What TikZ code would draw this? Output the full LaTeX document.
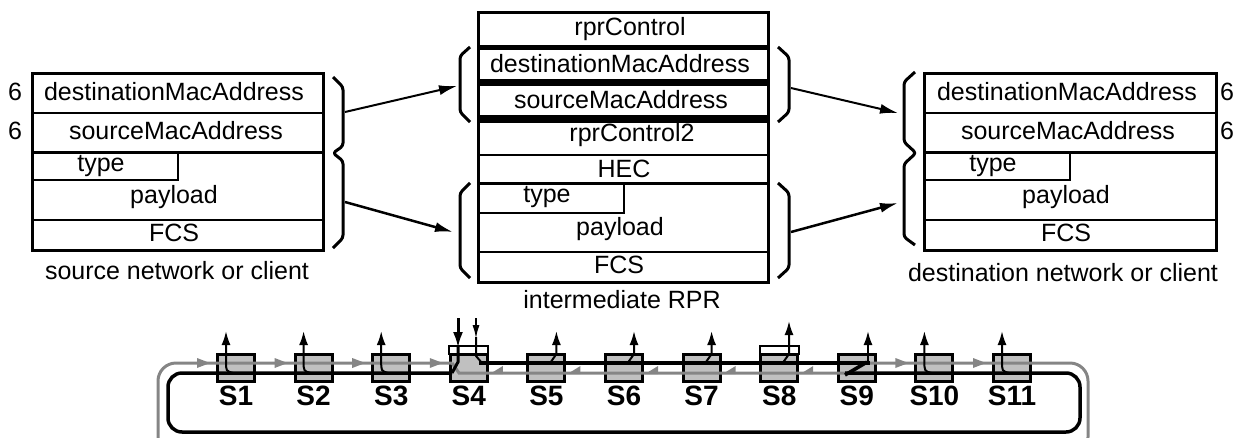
\documentclass[tikz,border=0pt]{standalone}
\usepackage{fontspec}
\setmainfont{Liberation Sans}
\usetikzlibrary{arrows.meta}
\definecolor{boxgray}{RGB}{192,192,192}
\definecolor{ringgray}{RGB}{133,133,133}
\begin{document}
\begin{tikzpicture}[x=1pt,y=-1pt,
  txt/.style={inner sep=0pt,font=\fontsize{25}{25}\selectfont},
  stn/.style={inner sep=0pt,font=\fontsize{28}{28}\selectfont\bfseries},
  brace/.style={line width=3pt,line join=round,rounded corners=3pt},
  pass/.style={line width=2.5pt,-{Latex[length=18pt,width=10pt]}},
  bring/.style={line width=3.5pt},
  gring/.style={line width=3pt,ringgray},
  drop/.style={line width=2pt,-{Latex[length=14pt,width=9pt]}},
  stbox/.style={draw,line width=3pt,fill=boxgray,minimum width=37pt,minimum height=27pt,inner sep=0pt}]
\useasboundingbox (0,0) rectangle (1237,437);
%source frame
\draw[line width=3pt] (32,73) rectangle (323,250);
\draw[line width=1.5pt] (32,113)--(323,113);
\draw[line width=3pt] (32,152)--(323,152);
\draw[line width=2.5pt] (32,180)-|(178,152);
\draw[line width=1.5pt] (32,220)--(323,220);
\node[txt] (sdst) at (174,92) {destinationMacAddress};
\node[txt] (ssrc) at (176,131) {sourceMacAddress};
\node[txt] (styp) at (101,166) {type};
\node[txt] (spay) at (174,197) {payload};
\node[txt] (sfcs) at (174,233) {FCS};
\node[txt] (sn1) at (15,92) {6};
\node[txt] (sn2) at (15,131) {6};
\node[txt] (slbl) at (177,271) {source network or client};
\draw[brace] (333,77)--(343,87)--(343,146)--(333,153)--(343,161)--(343,238)--(333,248);
%intermediate frame
\draw[line width=3pt] (478,12) rectangle (768,282);
\draw[line width=5pt] (478,47)--(768,47);
\draw[line width=7pt] (478,82)--(768,82);
\draw[line width=8pt] (478,119)--(768,119);
\draw[line width=2pt] (478,155)--(768,155);
\draw[line width=3pt] (478,183)--(768,183);
\draw[line width=2pt] (478,213)-|(624,183);
\draw[line width=2pt] (478,252)--(768,252);
\node[txt] (mctl) at (630,29) {rprControl};
\node[txt] (mdst) at (620,64) {destinationMacAddress};
\node[txt] (msrc) at (621,100) {sourceMacAddress};
\node[txt] (mct2) at (632,135) {rprControl2};
\node[txt] (mhec) at (624,169) {HEC};
\node[txt] (mtyp) at (547,197) {type};
\node[txt] (mpay) at (620,229) {payload};
\node[txt] (mfcs) at (619,265) {FCS};
\node[txt] (mlbl) at (622,300) {intermediate RPR};
\draw[brace] (470,47)--(460,56)--(460,112)--(470,122);
\draw[brace] (470,183)--(460,193)--(460,268)--(470,278);
\draw[brace] (778,47)--(789,57)--(789,112)--(778,122);
\draw[brace] (778,183)--(789,193)--(789,268)--(778,278);
%destination frame
\draw[line width=3pt] (924,73) rectangle (1216,250);
\draw[line width=1.5pt] (924,113)--(1216,113);
\draw[line width=3pt] (924,152)--(1216,152);
\draw[line width=2.5pt] (924,180)-|(1070,152);
\draw[line width=1.5pt] (924,220)--(1216,220);
\node[txt] (ddst) at (1067,92) {destinationMacAddress};
\node[txt] (dsrc) at (1068,131) {sourceMacAddress};
\node[txt] (dtyp) at (993,166) {type};
\node[txt] (dpay) at (1066,197) {payload};
\node[txt] (dfcs) at (1066,233) {FCS};
\node[txt] (dn1) at (1227,92) {6};
\node[txt] (dn2) at (1227,131) {6};
\node[txt] (dlbl) at (1063,273) {destination network or client};
\draw[brace] (915,72)--(904,82)--(904,142)--(916,153)--(904,164)--(904,237)--(915,245);
%header / payload moves
\coordinate (sh) at (345,112);
\coordinate (sp) at (345,202);
\coordinate (mhl) at (457,86);
\coordinate (mpl) at (453,232);
\coordinate (mhr) at (791,88);
\coordinate (mpr) at (791,232);
\coordinate (dh) at (898,113);
\coordinate (dp) at (898,203);
\draw[pass,line width=2pt] (sh)--(mhl);
\draw[pass] (sp)--(mpl);
\draw[pass,line width=2pt] (mhr)--(dh);
\draw[pass] (mpr)--(dp);
%stations
\foreach \i in {1,...,11}{
  \pgfmathsetmacro\cx{236+77.6*(\i-1)}
  \node[stbox] (S\i) at (\cx,368) {};
  \node[stn] (L\i) at (\cx,396) {S\i};
}
\foreach \i in {4,8}{
  \pgfmathsetmacro\cx{236+77.6*(\i-1)}
  \draw[line width=2pt] (\cx-19.5,346) rectangle (\cx+19.5,354);
}
%gray ringlet
\draw[gring,rounded corners=18pt] (866,363)--(1088,363)--(1088,455)--(158,455)--(158,363)--(452,363);
\draw[gring] (452,363)--(459,373)--(849,373)--(866,363);
\foreach \i in {1,2,3,4,10,11}{
  \pgfmathsetmacro\tx{236+77.6*(\i-1)-26}
  \fill[ringgray] (\tx,363)--++(-13,-5)--++(0,10)--cycle;
}
\foreach \i in {4,...,8}{
  \pgfmathsetmacro\tx{236+77.6*(\i-1)+21}
  \fill[ringgray] (\tx,374)--(\tx+13,366)--(\tx+13,374)--cycle;
}
%black ringlet
\draw[bring,rounded corners=14pt] (452,373)--(168,373)--(168,432)--(1080,432)--(1080,373)--(845,373);
\draw[bring] (845,375)--(867,362);
\draw[bring] (479,363)--(870,363);
%added at S4
\coordinate (in1) at (458,318);
\coordinate (in2) at (476,318);
\draw[line width=3pt,-{Latex[length=16pt,width=10pt]}] (in1)--(458,348);
\draw[line width=3pt] (458,346)--(458,362)--(452,373);
\draw[line width=2pt,-{Latex[length=14pt,width=7pt]}] (in2)--(476,339);
\draw[line width=2pt] (476,337)--(476,356)--(482,363);
%copies taken off
\foreach \i in {1,2,3,10,11}{
  \pgfmathsetmacro\cx{236+77.6*(\i-1)}
  \draw[drop] (\cx-3,373) .. controls (\cx-10,371) .. (\cx-10,361)--(\cx-10,331);
}
\foreach \i in {5,6,7}{
  \pgfmathsetmacro\cx{236+77.6*(\i-1)}
  \draw[drop] (\cx+3,364)--(\cx+10,354)--(\cx+10,331);
}
\draw[drop] (782,364)--(789,354)--(789,321);
\draw[drop] (868,363)--(868,331);
\end{tikzpicture}
\end{document}
